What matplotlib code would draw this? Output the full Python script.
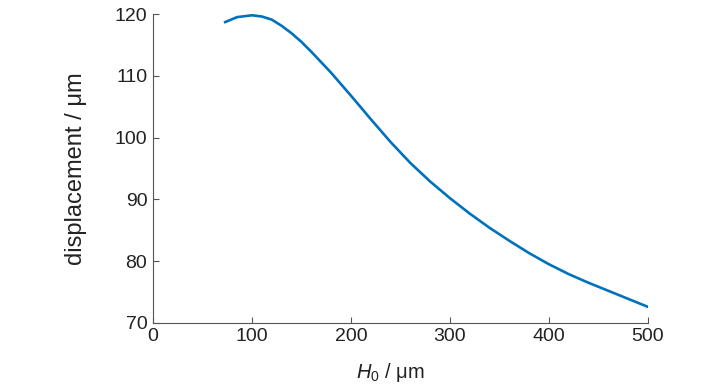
import matplotlib
matplotlib.use("Agg")
import matplotlib.pyplot as plt

h0 = [73, 85, 100, 110, 120, 130, 140, 150, 160, 180, 200, 220, 240, 260, 280, 300,
      320, 340, 360, 380, 400, 420, 440, 460, 480, 500]
disp = [118.7, 119.5, 119.8, 119.6, 119.1, 118.1, 116.9, 115.5, 113.9, 110.5, 106.8,
        103.0, 99.3, 95.9, 92.9, 90.2, 87.7, 85.4, 83.3, 81.3, 79.5, 77.9, 76.5,
        75.2, 73.9, 72.6]
xticks = [0, 100, 200, 300, 400, 500]
yticks = [70, 80, 90, 100, 110, 120]

fam = ['Liberation Sans', 'DejaVu Sans']
plt.rcParams['font.family'] = fam
plt.rcParams['mathtext.fontset'] = 'custom'
plt.rcParams['mathtext.rm'] = 'Liberation Sans'
plt.rcParams['mathtext.it'] = 'Liberation Sans:italic'

fig = plt.figure(figsize=(7.28, 3.9), dpi=100)
ax = fig.add_axes([0.210, 0.172, 0.680, 0.792])
ax.plot(h0, disp, color='#0072BD', lw=1.9, solid_joinstyle='round')
ax.set_xlim(0, 500)
ax.set_ylim(70, 120)
ax.set_xticks(xticks)
ax.set_yticks(yticks)
for s in ['top', 'right']:
    ax.spines[s].set_visible(False)
for s in ['left', 'bottom']:
    ax.spines[s].set_color('#555555')
    ax.spines[s].set_linewidth(0.8)
ax.tick_params(direction='in', length=4, width=0.8, color='#555555',
               labelsize=14, labelcolor='#222222', pad=4)
ax.set_xlabel(r'$\mathit{H}_{\mathrm{0}}$ / μm', fontsize=14.5, color='#222222', labelpad=11)
ax.xaxis.label.set_x(0.48)
ax.set_ylabel('displacement / μm', fontsize=17, color='#222222', labelpad=20)
fig.savefig('out.png', dpi=100)
